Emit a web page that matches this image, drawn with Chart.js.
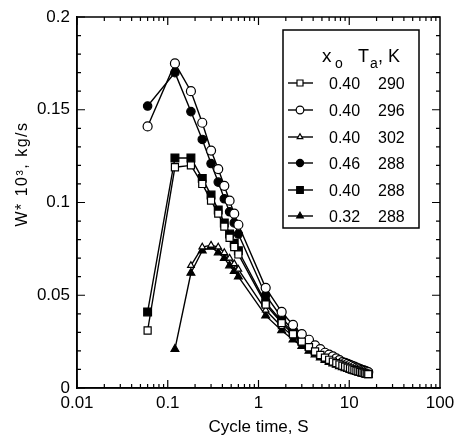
<!DOCTYPE html>
<html><head><meta charset="utf-8">
<script src="https://cdn.jsdelivr.net/npm/chart.js@4/dist/chart.umd.min.js"></script>
<style>html,body{margin:0;padding:0;background:#fff}</style>
</head><body>
<canvas id="c" width="460" height="440"></canvas>
<script>
// ---- data ----
const cycleTimes = [0.06,0.12,0.18,0.24,0.30,0.36,0.42,0.48,0.54,0.60,
  1.2,1.8,2.4,3.0,3.6,4.2,4.8,5.4,6.0,6.6,7.2,7.8,8.4,9.0,9.6,10.2,10.8,11.4,12.0,12.6,13.2,13.8,14.4,15.0,15.6,16.2];
const xoLabels = ['0.40','0.40','0.40','0.46','0.40','0.32'];
const taLabels = ['290','296','302','288','288','288'];
const w_040_290 = [0.031,0.119,0.120,0.110,0.101,0.094,0.087,0.081,0.076,0.072,
  0.045,0.035,0.029,0.025,0.022,0.0197,0.0178,0.0164,0.0152,0.0142,0.0134,0.0127,0.012,0.0115,0.011,0.0105,0.0101,0.0097,0.0093,0.009,0.0087,0.0084,0.0082,0.0079,0.0077,0.0075];
const w_040_296 = [0.141,0.175,0.160,0.143,0.128,0.118,0.109,0.101,0.094,0.088,
  0.054,0.041,0.034,0.029,0.026,0.023,0.021,0.019,0.018,0.017,0.016,0.015,0.014,0.0135,0.013,0.0125,0.012,0.0115,0.011,0.0106,0.0102,0.0098,0.0095,0.0092,0.0089,0.0086];
const w_040_302 = [null,null,0.066,0.076,0.077,0.076,0.073,0.070,0.067,0.064,
  0.042,0.033,0.028,0.024,0.0215,0.0192,0.0174,0.016,0.0148,0.0139,0.0131,0.0124,0.0118,0.0112,0.0107,0.0103,0.0099,0.0095,0.0091,0.0088,0.0085,0.0082,0.008,0.0078,0.0076,0.0074];
const w_046_288 = [0.152,0.170,0.149,0.134,0.121,0.111,0.102,0.095,0.089,0.083,
  0.050,0.038,0.031,0.027,0.024,0.0215,0.0195,0.018,0.0167,0.0156,0.0147,0.0139,0.0132,0.0126,0.012,0.0115,0.011,0.0106,0.0102,0.0098,0.0094,0.0091,0.0088,0.0085,0.0083,0.008];
const w_040_288 = [0.041,0.124,0.124,0.113,0.104,0.096,0.089,0.083,0.078,0.074,
  0.046,0.036,0.030,0.0255,0.0225,0.020,0.018,0.0167,0.0155,0.0145,0.0137,0.013,0.0123,0.0117,0.0112,0.0107,0.0103,0.0099,0.0095,0.0092,0.0089,0.0086,0.0083,0.0081,0.0079,0.0077];
const w_032_288 = [null,0.021,0.062,0.074,0.076,0.073,0.070,0.066,0.063,0.060,
  0.039,0.031,0.026,0.0225,0.020,0.018,0.0163,0.015,0.014,0.0131,0.0124,0.0117,0.0111,0.0106,0.0101,0.0097,0.0093,0.009,0.0087,0.0084,0.0081,0.0078,0.0076,0.0074,0.0072,0.007];
const xTickValues = [0.01,0.1,1,10,100];
const xTickLabels = ['0.01','0.1','1','10','100'];
const yTickValues = [0,0.05,0.1,0.15,0.2];
const yTickLabels = ['0','0.05','0.1','0.15','0.2'];
const xTitle = 'Cycle time, S';
const yTitle = 'W* 10³, kg/s';

const FONT = "'Liberation Sans', Arial, sans-serif";
const series = [w_040_290, w_040_296, w_040_302, w_046_288, w_040_288, w_032_288];
const styles = [
  {pointStyle:'rect', radius:5, fill:'#fff'},
  {pointStyle:'circle', radius:4.5, fill:'#fff'},
  {pointStyle:'triangle', radius:3.8, fill:'#fff'},
  {pointStyle:'circle', radius:4.2, fill:'#000'},
  {pointStyle:'rect', radius:5.5, fill:'#000'},
  {pointStyle:'triangle', radius:4.5, fill:'#000'}
];
const datasets = series.map((vals, i) => ({
  label: xoLabels[i] + ' ' + taLabels[i],
  data: cycleTimes.map((t, k) => ({x: t, y: vals[k]})).filter(p => p.y !== null),
  borderColor: '#000', borderWidth: 1.4, tension: 0, fill: false,
  pointStyle: styles[i].pointStyle, pointRadius: styles[i].radius,
  pointBackgroundColor: styles[i].fill, pointBorderColor: '#000', pointBorderWidth: 1.2
}));

function isMatch(v, list) { return list.findIndex(t => Math.abs(v - t) <= Math.abs(t) * 1e-6 + 1e-12); }

const frame = {
  id: 'frame',
  afterDatasetsDraw(chart) {
    const {ctx, chartArea: a, scales: {x, y}} = chart;
    ctx.save();
    ctx.strokeStyle = '#000'; ctx.lineWidth = 1.5;
    ctx.strokeRect(a.left, a.top, a.right - a.left, a.bottom - a.top);
    ctx.lineWidth = 1.2;
    ctx.beginPath();
    for (let d = -2; d <= 1; d++) {
      for (let m = 1; m <= 9; m++) {
        const v = m * Math.pow(10, d);
        const px = x.getPixelForValue(v);
        const len = m === 1 ? 8 : 4;
        ctx.moveTo(px, a.bottom); ctx.lineTo(px, a.bottom - len);
        ctx.moveTo(px, a.top); ctx.lineTo(px, a.top + len);
      }
    }
    for (let k = 0; k <= 20; k++) {
      const v = k * 0.01;
      const py = y.getPixelForValue(v);
      const len = k % 5 === 0 ? 8 : 4;
      ctx.moveTo(a.left, py); ctx.lineTo(a.left + len, py);
      ctx.moveTo(a.right, py); ctx.lineTo(a.right - len, py);
    }
    ctx.stroke();
    // y title
    ctx.save();
    ctx.translate(23, 174);
    ctx.rotate(-Math.PI / 2);
    ctx.fillStyle = '#000';
    ctx.font = '16px ' + FONT;
    try { ctx.letterSpacing = '1.5px'; } catch (e) {}
    ctx.textAlign = 'center'; ctx.textBaseline = 'middle';
    ctx.fillText(yTitle, 0, 0);
    ctx.restore();
    // legend
    const L = 283, T = 30, R = 419, B = 228;
    ctx.fillStyle = '#fff';
    ctx.fillRect(L, T, R - L, B - T);
    ctx.lineWidth = 1.5; ctx.strokeStyle = '#000';
    ctx.strokeRect(L, T, R - L, B - T);
    ctx.fillStyle = '#000';
    ctx.textBaseline = 'alphabetic'; ctx.textAlign = 'left';
    ctx.font = '19px ' + FONT;
    ctx.fillText('x', 322, 62);
    ctx.font = '14px ' + FONT;
    ctx.fillText('o', 335, 68);
    ctx.font = '18px ' + FONT;
    ctx.fillText('T', 358, 62);
    ctx.font = '14px ' + FONT;
    ctx.fillText('a', 370, 68);
    ctx.font = '18px ' + FONT;
    ctx.fillText(', K', 378, 62);
    const rows = [83, 110, 137, 163, 190, 216];
    ctx.font = '16px ' + FONT;
    chart.data.datasets.forEach((ds, i) => {
      const ry = rows[i];
      ctx.strokeStyle = '#000'; ctx.lineWidth = 1.4;
      ctx.beginPath(); ctx.moveTo(288, ry); ctx.lineTo(313, ry); ctx.stroke();
      ctx.fillStyle = ds.pointBackgroundColor; ctx.strokeStyle = '#000'; ctx.lineWidth = 1.2;
      Chart.helpers.drawPoint(ctx, {pointStyle: ds.pointStyle, radius: ds.pointRadius * 0.85, rotation: 0, borderWidth: 1.2}, 300, ry);
      ctx.fillStyle = '#000';
      ctx.fillText(xoLabels[i], 329, ry + 6);
      ctx.fillText(taLabels[i], 378, ry + 6);
    });
    ctx.restore();
  }
};

new Chart(document.getElementById('c'), {
  type: 'line',
  data: {datasets},
  options: {
    responsive: false, animation: false,
    layout: {padding: {left: 0, right: 20, top: 17, bottom: 0}},
    plugins: {legend: {display: false}, tooltip: {enabled: false}},
    scales: {
      x: {
        type: 'logarithmic', min: 0.01, max: 100,
        grid: {display: false, drawTicks: false},
        border: {display: true, color: '#000', width: 1.5},
        ticks: {
          autoSkip: false, maxRotation: 0, padding: 5, color: '#000',
          font: {family: FONT, size: 17},
          callback: (v) => { const i = isMatch(v, xTickValues); return i >= 0 ? xTickLabels[i] : ''; }
        },
        title: {display: true, text: xTitle, color: '#000', font: {family: FONT, size: 17}, padding: {top: 0, bottom: 2}},
        afterFit: (s) => { s.height = 52; s.paddingLeft = 0; s.paddingRight = 0; }
      },
      y: {
        type: 'linear', min: 0, max: 0.2,
        grid: {display: false, drawTicks: false},
        border: {display: true, color: '#000', width: 1.5},
        ticks: {
          stepSize: 0.05, padding: 7, color: '#000',
          font: {family: FONT, size: 17},
          callback: (v) => { const i = isMatch(v, yTickValues); return i >= 0 ? yTickLabels[i] : ''; }
        },
        afterFit: (s) => { s.width = 77; s.paddingTop = 0; s.paddingBottom = 0; }
      }
    }
  },
  plugins: [frame]
});
</script>
</body></html>
